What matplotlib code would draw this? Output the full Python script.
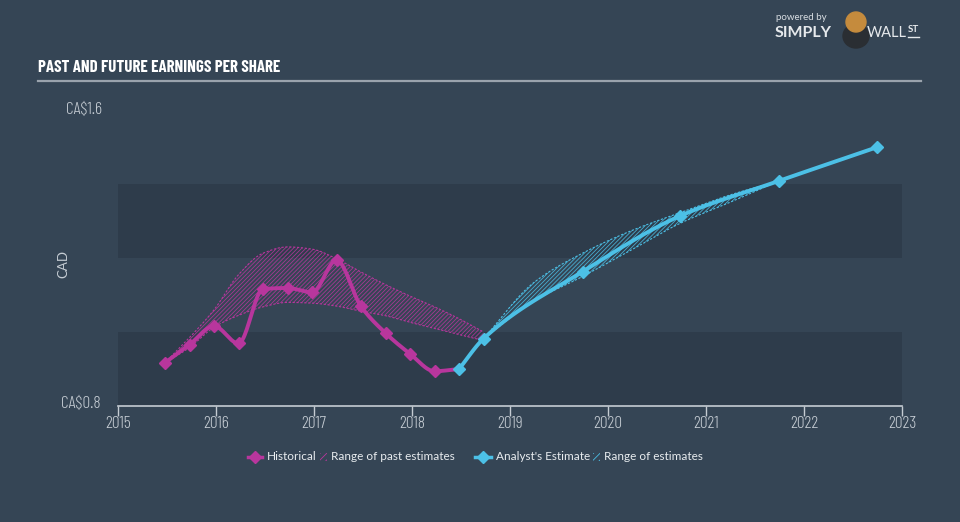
import numpy as np
import matplotlib
matplotlib.use("Agg")
import matplotlib.pyplot as plt
from matplotlib.lines import Line2D
from matplotlib.patches import Rectangle, Ellipse
import matplotlib.transforms as mtransforms

# ---- data ----
hist_x = [2015.48, 2015.73, 2015.98, 2016.23, 2016.48, 2016.73, 2016.98,
          2017.23, 2017.48, 2017.73, 2017.98, 2018.23, 2018.48]
hist_y = [0.917, 0.966, 1.016, 0.969, 1.116, 1.119, 1.107,
          1.194, 1.069, 0.997, 0.941, 0.894, 0.900]

past_x = [2015.48, 2015.73, 2015.98, 2016.23, 2016.48, 2016.73, 2016.98,
          2017.23, 2017.48, 2017.73, 2017.98, 2018.23, 2018.48, 2018.73]
past_hi = [0.917, 0.985, 1.060, 1.155, 1.213, 1.230, 1.224,
           1.198, 1.162, 1.128, 1.097, 1.068, 1.036, 1.000]
past_lo = [0.917, 0.958, 1.013, 1.045, 1.068, 1.080, 1.078,
           1.070, 1.056, 1.044, 1.026, 1.010, 0.993, 0.977]

est_x = [2018.48, 2018.73, 2019.74, 2020.73, 2021.74, 2022.74]
est_y = [0.900, 0.982, 1.163, 1.313, 1.408, 1.499]

range_x = [2018.73, 2019.24, 2019.74, 2020.24, 2020.73, 2021.24, 2021.74]
range_hi = [0.982, 1.133, 1.213, 1.274, 1.322, 1.370, 1.408]
range_lo = [0.982, 1.083, 1.150, 1.222, 1.293, 1.350, 1.408]

years = list(range(2015, 2024))

BG = "#354555"
BAND = "#2e3c4b"
MAG = "#b8369d"
BLUE = "#4cc0e6"
GREY = "#c5ccd3"


def smooth(x, y, n=24):
    # monotone cubic curve through the points (d3 curveMonotoneX style)
    x = np.asarray(x, float)
    y = np.asarray(y, float)
    h = np.diff(x)
    d = np.diff(y) / h
    m = np.zeros_like(y)
    m[0], m[-1] = d[0], d[-1]
    for i in range(1, len(y) - 1):
        if d[i - 1] * d[i] > 0:
            w1 = 2 * h[i] + h[i - 1]
            w2 = h[i] + 2 * h[i - 1]
            m[i] = (w1 + w2) / (w1 / d[i - 1] + w2 / d[i])
    xs, ys = [], []
    for i in range(len(h)):
        t = np.linspace(0, 1, n, endpoint=(i == len(h) - 1))
        h00 = 2 * t**3 - 3 * t**2 + 1
        h10 = t**3 - 2 * t**2 + t
        h01 = -2 * t**3 + 3 * t**2
        h11 = t**3 - t**2
        xs.append(x[i] + t * h[i])
        ys.append(h00 * y[i] + h10 * h[i] * m[i] + h01 * y[i + 1] + h11 * h[i] * m[i + 1])
    return np.concatenate(xs), np.concatenate(ys)


plt.rcParams["hatch.linewidth"] = 0.6
narrow = ["Barlow Condensed", "DejaVu Sans"]
legend_font = ["Lato", "DejaVu Sans"]
HATCH = "////////"

fig = plt.figure(figsize=(9.6, 5.22), dpi=100, facecolor=BG)
ax = fig.add_axes([118 / 960, 116 / 522, 784 / 960, 296 / 522])
ax.set_facecolor(BG)
ax.set_xlim(2015, 2023)
ax.set_ylim(0.8, 1.6)

# background bands
ax.axhspan(0.8, 1.0, color=BAND, lw=0, zorder=0)
ax.axhspan(1.2, 1.4, color=BAND, lw=0, zorder=0)

# range of past estimates
px, ph = smooth(past_x, past_hi)
_, pl = smooth(past_x, past_lo)
ax.fill_between(px, pl, ph, facecolor="none", edgecolor=MAG, hatch=HATCH,
                lw=0, zorder=2, alpha=0.85)
ax.plot(px, ph, color=MAG, lw=0.8, ls=(0, (2, 1.5)), zorder=2)
ax.plot(px, pl, color=MAG, lw=0.8, ls=(0, (2, 1.5)), zorder=2)

# range of estimates
rx, rh = smooth(range_x, range_hi)
_, rl = smooth(range_x, range_lo)
ax.fill_between(rx, rl, rh, facecolor="none", edgecolor=BLUE, hatch=HATCH,
                lw=0, zorder=2, alpha=0.85)
ax.plot(rx, rh, color=BLUE, lw=0.8, ls=(0, (2, 1.5)), zorder=2)
ax.plot(rx, rl, color=BLUE, lw=0.8, ls=(0, (2, 1.5)), zorder=2)

# historical line
hx, hy = smooth(hist_x, hist_y)
ax.plot(hx, hy, color=MAG, lw=2.8, solid_capstyle="round", zorder=3)
ax.plot(hist_x[:-1], hist_y[:-1], ls="none", marker="D", ms=6, color=MAG, zorder=4)

# analyst estimate line
ex, ey = smooth(est_x, est_y)
ax.plot(ex, ey, color=BLUE, lw=2.8, solid_capstyle="round", zorder=3)
ax.plot(est_x, est_y, ls="none", marker="D", ms=6, color=BLUE, zorder=4)

# axes styling
for s in ["top", "right", "left"]:
    ax.spines[s].set_visible(False)
ax.spines["bottom"].set_color(GREY)
ax.spines["bottom"].set_linewidth(1.2)
ax.set_yticks([])
ax.set_xticks(years)
ax.set_xticklabels([str(y) for y in years], family=narrow, fontweight=300,
                   fontsize=12.5, color=GREY)
ax.tick_params(axis="x", direction="out", length=7, width=1, color=GREY, pad=0)

trans = mtransforms.blended_transform_factory(fig.transFigure, ax.transData)
ax.text(102 / 960, 1.6, r"CA\$1.6", transform=trans, ha="right", va="center",
        family=narrow, fontweight=300, fontsize=12.5, color=GREY)
ax.text(101 / 960, 0.805, r"CA\$0.8", transform=trans, ha="right", va="center",
        family=narrow, fontweight=300, fontsize=12.5, color=GREY)
fig.text(63 / 960, 1 - 264 / 522, "CAD", rotation=90, ha="center", va="center",
         family=legend_font, fontsize=9.5, color=GREY)

# title and rule
fig.text(38 / 960, 1 - 68 / 522, "PAST AND FUTURE EARNINGS PER SHARE",
         family=narrow, fontweight="bold", fontsize=12.2, color="white",
         ha="left", va="center")
fig.add_artist(Line2D([38 / 960, 921 / 960], [1 - 81 / 522, 1 - 81 / 522],
                      color="#9aa3ad", lw=1.6))

# logo
fig.text(776 / 960, 1 - 18 / 522, "powered by", family=legend_font, fontsize=7,
         color="#d8dde2", ha="left", va="center")
fig.text(775 / 960, 1 - 33 / 522, "SIMPLY", family=legend_font, fontsize=11.5,
         fontweight="bold", color="#e6e9ec", ha="left", va="center")
fig.text(867 / 960, 1 - 33 / 522, "WALL", family=legend_font, fontsize=10.5,
         color="#e6e9ec", ha="left", va="center")
fig.text(908 / 960, 1 - 30 / 522, "ST", family=legend_font, fontsize=7,
         fontweight="bold", color="#e6e9ec", ha="left", va="center")
fig.add_artist(Line2D([908 / 960, 919 / 960], [1 - 37 / 522, 1 - 37 / 522],
                      color="#e6e9ec", lw=1))
fig.add_artist(Ellipse((856 / 960, 1 - 36 / 522), 26 / 960, 24 / 522,
                       color="#2a2e33", transform=fig.transFigure))
fig.add_artist(Ellipse((856 / 960, 1 - 22 / 522), 20 / 960, 20 / 522,
                       color="#c58b3d", transform=fig.transFigure))

# legend
ly = 1 - 457 / 522
fig.add_artist(Line2D([248 / 960, 262 / 960], [ly, ly], color=MAG, lw=2.5))
fig.add_artist(Line2D([255 / 960], [ly], color=MAG, marker="D", ms=6))
fig.text(267 / 960, ly, "Historical", family=legend_font, fontsize=8.5,
         color="#e8ecef", ha="left", va="center")
fig.add_artist(Rectangle((320 / 960, ly - 4 / 522), 7 / 960, 8 / 522,
                         facecolor="none", edgecolor=MAG, hatch="/////", lw=0,
                         transform=fig.transFigure))
fig.text(331 / 960, ly, "Range of past estimates", family=legend_font,
         fontsize=8.5, color="#e8ecef", ha="left", va="center")
fig.add_artist(Line2D([475 / 960, 491 / 960], [ly, ly], color=BLUE, lw=2.5))
fig.add_artist(Line2D([483 / 960], [ly], color=BLUE, marker="D", ms=6))
fig.text(496 / 960, ly, "Analyst's Estimate", family=legend_font, fontsize=8.5,
         color="#e8ecef", ha="left", va="center")
fig.add_artist(Rectangle((593 / 960, ly - 4 / 522), 7 / 960, 8 / 522,
                         facecolor="none", edgecolor=BLUE, hatch="/////", lw=0,
                         transform=fig.transFigure))
fig.text(604 / 960, ly, "Range of estimates", family=legend_font, fontsize=8.5,
         color="#e8ecef", ha="left", va="center")

fig.savefig("out.png", dpi=100, facecolor=BG)
